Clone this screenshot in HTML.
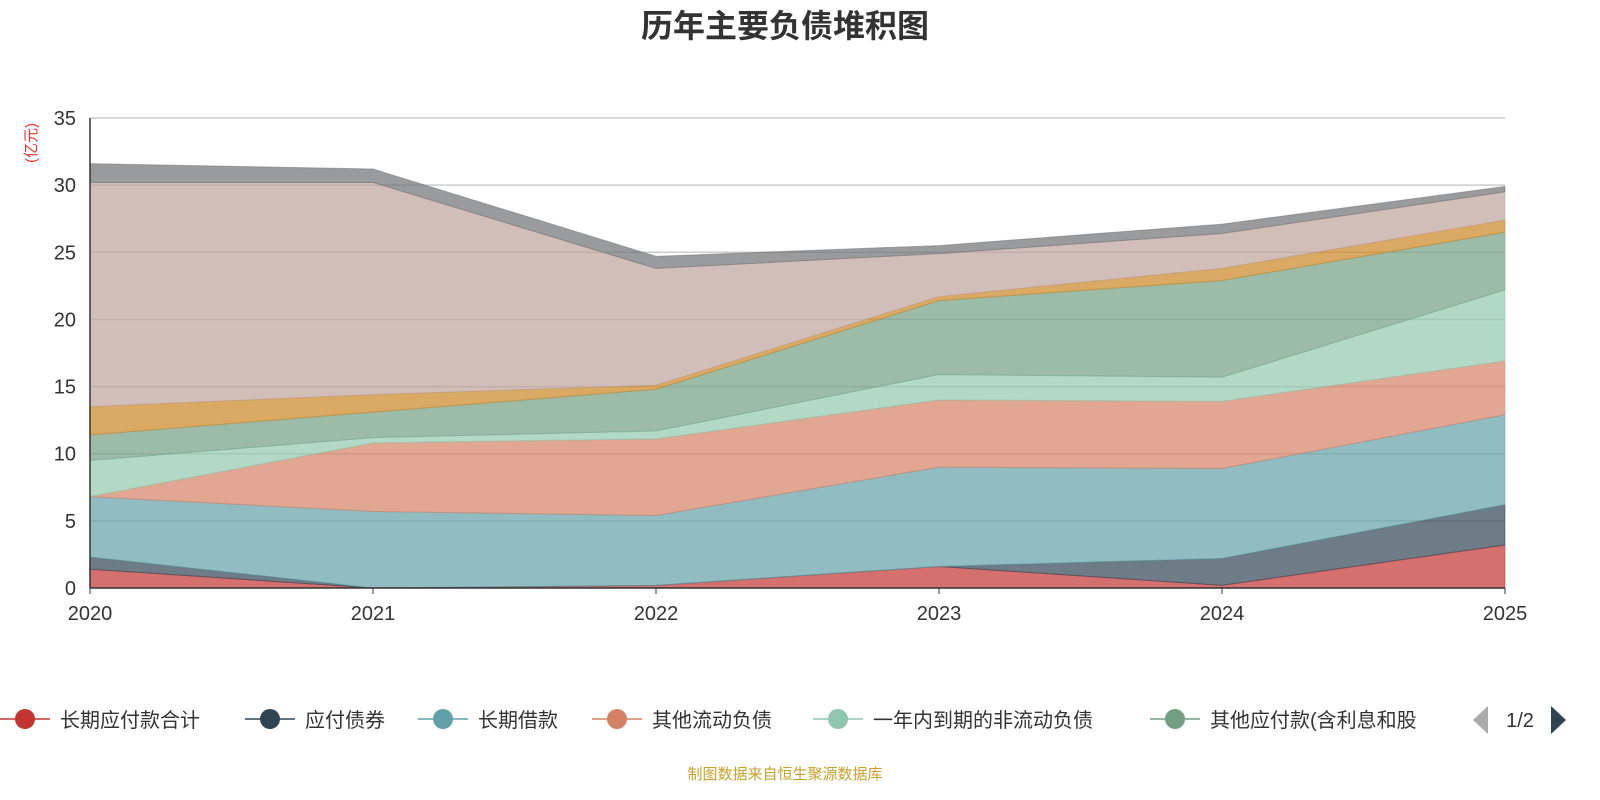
<!DOCTYPE html>
<html><head><meta charset="utf-8">
<style>
html,body{margin:0;padding:0;width:1600px;height:800px;overflow:hidden;background:#fff;font-family:"Liberation Sans","Noto Sans CJK SC",sans-serif;}
svg{display:block;}
svg text{font-family:"Liberation Sans","Noto Sans CJK SC",sans-serif;}
</style></head>
<body>
<svg id="c" width="1600" height="800">
<text x="785" y="37" text-anchor="middle" font-size="32" font-weight="bold" fill="#333">历年主要负债堆积图</text>
<text transform="translate(36,143) rotate(-90)" text-anchor="middle" font-size="15" fill="#e8312f">(亿元)</text>
<text x="785" y="779" text-anchor="middle" font-size="15" fill="#c8a02a">制图数据来自恒生聚源数据库</text>
<g id="grid"></g><g id="areas"></g><g id="axes"></g><g id="legend"></g>
</svg>
<script>
const years=["2020","2021","2022","2023","2024","2025"];
const yTicks=[0,5,10,15,20,25,30,35];
const names=["长期应付款合计","应付债券","长期借款","其他流动负债","一年内到期的非流动负债","其他应付款(含利息和股"];
const colors=["#c23531","#2f4554","#61a0a8","#d48265","#91c7ae","#749f83","#ca8622","#bda29a","#6e7074"];
const s1=[1.4,0,0.2,1.6,0.2,3.2];
const s2=[0.9,0,0,0,2.0,3.0];
const s3=[4.5,5.7,5.2,7.4,6.7,6.7];
const s4=[0,5.1,5.7,5.0,5.0,4.0];
const s5=[2.7,0.4,0.6,1.9,1.8,5.3];
const s6=[1.9,1.9,3.1,5.5,7.2,4.3];
const s7=[2.1,1.3,0.3,0.3,0.9,0.9];
const s8=[16.7,15.8,8.7,3.2,2.6,2.1];
const s9=[1.4,1.0,0.9,0.6,0.7,0.4];
const series=[s1,s2,s3,s4,s5,s6,s7,s8,s9];
const NS="http://www.w3.org/2000/svg";
const X0=90,X1=1505,Y0=588,Y1=118,YMAX=35;
const x=i=>X0+(X1-X0)*i/(years.length-1);
const y=v=>Y0-(Y0-Y1)*v/YMAX;
function mk(tag,attrs,parent){const e=document.createElementNS(NS,tag);for(const k in attrs)e.setAttribute(k,attrs[k]);parent.appendChild(e);return e;}
const grid=document.getElementById('grid'),areas=document.getElementById('areas'),axes=document.getElementById('axes'),legend=document.getElementById('legend');
yTicks.forEach(t=>{
 if(t>0){const l=mk('line',{x1:X0,x2:X1,y1:y(t),y2:y(t),stroke:'#ccc','stroke-width':1.5},grid);
 
 }
 const tx=mk('text',{x:X0-14,y:y(t)+7,'text-anchor':'end','font-size':20,fill:'#333'},axes);tx.textContent=t;
 
 
});
let base=years.map(()=>0);
series.forEach((s,k)=>{
 const top=base.map((b,i)=>b+s[i]);
 let d='M'+top.map((v,i)=>x(i)+','+y(v)).join('L');
 for(let i=years.length-1;i>=0;i--)d+='L'+x(i)+','+y(base[i]);
 d+='Z';
 const p=mk('path',{d:d,fill:colors[k],'fill-opacity':0.7,stroke:colors[k],'stroke-width':1,'stroke-opacity':0.5},areas);
 
 
 base=top;
});
let a=mk('line',{x1:X0,x2:X0,y1:Y1,y2:Y0,stroke:'#333','stroke-width':1.5},axes);


a=mk('line',{x1:X0,x2:X1,y1:Y0,y2:Y0,stroke:'#333','stroke-width':1.5},axes);


years.forEach((yr,i)=>{
 const tk=mk('line',{x1:x(i),x2:x(i),y1:Y0,y2:Y0+6,stroke:'#333'},axes);
 
 
 const t=mk('text',{x:x(i),y:620,'text-anchor':'middle','font-size':20,fill:'#333'},axes);t.textContent=yr;
 
 
});
const lx=[0,245,418,592,813,1150];
names.forEach((n,k)=>{
 const g=mk('g',{},legend);
 
 
 mk('line',{x1:lx[k],x2:lx[k]+50,y1:719,y2:719,stroke:colors[k],'stroke-width':1.5},g);
 mk('circle',{cx:lx[k]+25,cy:719,r:10,fill:colors[k]},g);
 const t=mk('text',{x:lx[k]+60,y:727,'font-size':20,fill:'#333'},g);t.textContent=n;
});
let pg=mk('path',{d:'M1488,706L1488,734L1473,720Z',fill:'#aaa'},legend);


let pt=mk('text',{x:1520,y:727,'text-anchor':'middle','font-size':20,fill:'#333'},legend);pt.textContent='1/2';


pg=mk('path',{d:'M1551,706L1551,734L1566,720Z',fill:'#2f4554'},legend);


</script>
</body></html>
